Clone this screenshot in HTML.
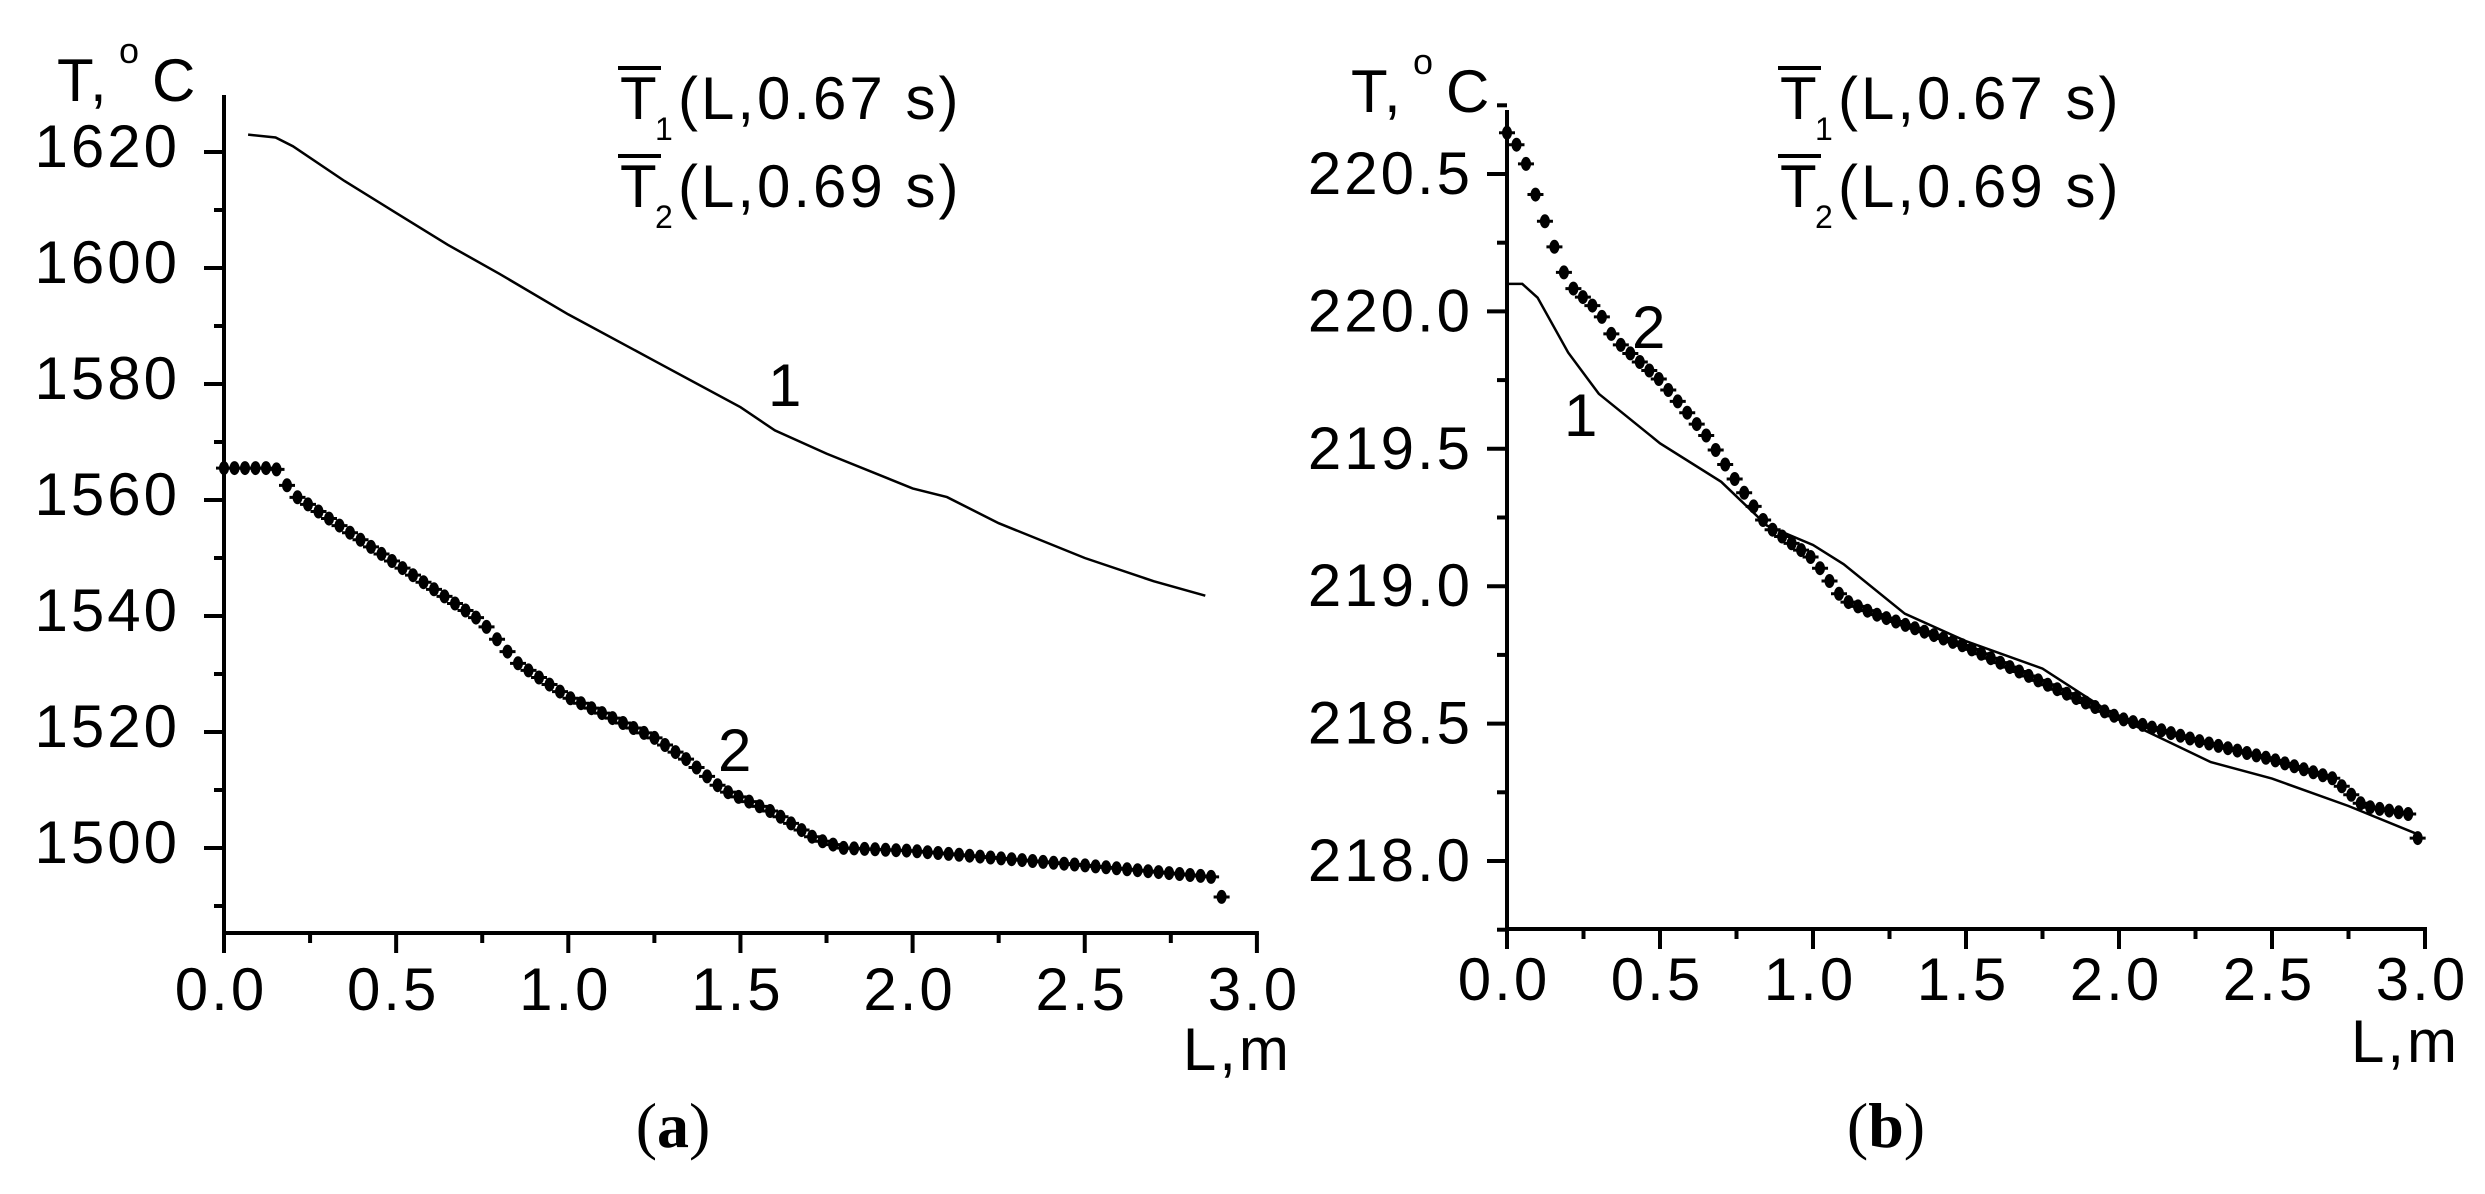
<!DOCTYPE html>
<html><head><meta charset="utf-8"><style>
html,body{margin:0;padding:0;background:#fff;}
svg{display:block;}
text{font-family:"Liberation Sans",sans-serif;fill:#000;}
.t{font-size:60px;letter-spacing:3px;}
.cap{font-family:"Liberation Serif",serif;font-size:64px;}
</style></head><body>
<svg id="s" width="2485" height="1194" viewBox="0 0 2485 1194" xmlns="http://www.w3.org/2000/svg"></svg>
<script>
const S=document.getElementById('s');let h='';
function L(x1,y1,x2,y2,w){h+=`<line x1="${x1}" y1="${y1}" x2="${x2}" y2="${y2}" stroke="#000" stroke-width="${w||3}"/>`;}
function T(x,y,s,a,c){h+=`<text x="${x}" y="${y}" class="${c||'t'}" text-anchor="${a||'start'}">${s}</text>`;}
function interp(p,x){for(let i=0;i<p.length-1;i++){if(x>=p[i][0]&&x<=p[i+1][0]){const t=(x-p[i][0])/(p[i+1][0]-p[i][0]);return p[i][1]+t*(p[i+1][1]-p[i][1]);}}return p[p.length-1][1];}
function panel(o){
 const X=v=>o.x0+(v-o.xmin)*o.xs, Y=v=>o.y0-(v-o.ymin)*o.ys;
 L(o.x0,o.top,o.x0,o.bot,4);L(o.x0,o.bot,X(3.0)+2,o.bot,4);
 for(let i=0;i<=6;i++){const x=X(i*0.5);L(x,o.bot,x,o.bot+20,4);if(i<6){const xm=X(i*0.5+0.25);L(xm,o.bot,xm,o.bot+10,4);}
  T(x-3,o.xlb,(i*0.5).toFixed(1),'middle');}
 o.yt.forEach((v,i)=>{const y=Y(v);L(o.x0-20,y,o.x0,y,4);T(o.x0-o.gap,y+o.yoff,v.toFixed(o.dec),'end');
  if(i<o.yt.length-1||o.extra){const ym=Y(v+o.step/2);L(o.x0-10,ym,o.x0,ym,4);}});
 if(o.below){const ym=Y(o.yt[0]-o.step/2);L(o.x0-10,ym,o.x0,ym,4);}
 T(o.tx,o.tb,'T,');h+=`<text x="${o.tx+62}" y="${o.tb-38}" style="font-size:36px">o</text>`;T(o.tx+95,o.tb,'C');
 T(X(3.0)-74,o.lmb,'L,m');
 const lx=o.lx;
 [['1','0.67s',119],['2','0.69s',207]].forEach(a=>{L(lx,a[2]-51,lx+43,a[2]-51,4);
  h+=`<text x="${lx+2}" y="${a[2]}" class="t">T</text><text x="${lx+37}" y="${a[2]+21}" style="font-size:32px">${a[0]}</text><text x="${lx+60}" y="${a[2]}" class="t">(L,0.${a[1].slice(2,4)} s)</text>`;});
 let d='';o.c1.forEach((p,i)=>{d+=(i?'L':'M')+X(p[0]).toFixed(1)+' '+Y(p[1]).toFixed(1);});
 h+=`<path d="${d}" fill="none" stroke="#000" stroke-width="2.5"/>`;
 const a=o.c2[0][0],b=o.c2[o.c2.length-1][0];
 for(let v=a;v<=b+1e-6;v+=o.dx){const x=X(v),y=Y(interp(o.c2,v));
  h+=`<ellipse cx="${x.toFixed(1)}" cy="${y.toFixed(1)}" rx="5" ry="7"/><line x1="${x-8}" y1="${y}" x2="${x+8}" y2="${y}" stroke="#000" stroke-width="3"/>`;}
 o.lab.forEach(l=>T(l[0],l[1],l[2]));
 T(o.capx,1147,'(<tspan font-weight="bold">'+o.cap+'</tspan>)','middle','cap');
}
panel({x0:224,xmin:0,xs:344.3,y0:848,ymin:1500,ys:116/20,top:95,bot:933,yt:[1500,1520,1540,1560,1580,1600,1620],step:20,dec:0,below:true,gap:44,yoff:15,xlb:1010,lmb:1070,lx:618,tx:57,tb:101,
 c1:[[0.07,1623],[0.15,1622.5],[0.2,1621],[0.35,1615],[0.5,1609.5],[0.65,1604],[0.8,1599],[1.0,1592],[1.25,1584],[1.5,1576],[1.6,1572],[1.75,1568],[2.0,1562],[2.1,1560.5],[2.25,1556],[2.5,1550],[2.7,1546],[2.85,1543.5]],
 c2:[[0,1565.5],[0.15,1565.5],[0.2,1561],[0.35,1555],[0.5,1549],[0.75,1539],[0.85,1532],[1.0,1526],[1.25,1519],[1.35,1515],[1.45,1510],[1.6,1506],[1.72,1501.5],[1.8,1500],[2.0,1499.5],[2.5,1497],[2.87,1495],[2.91,1490]],dx:0.0305,
 lab:[[768,406,'1'],[718,771,'2']],capx:673,cap:'a'});
panel({x0:1507,xmin:0,xs:306,y0:861,ymin:218,ys:137.4/0.5,top:110,bot:929,yt:[218,218.5,219,219.5,220,220.5],step:0.5,dec:1,extra:true,below:true,gap:34,yoff:20,xlb:1000,lmb:1062,lx:1778,tx:1351,tb:112,
 c1:[[0,220.1],[0.05,220.1],[0.1,220.05],[0.2,219.85],[0.3,219.7],[0.5,219.52],[0.7,219.38],[0.85,219.22],[1.0,219.15],[1.1,219.08],[1.3,218.9],[1.5,218.8],[1.75,218.7],[2.0,218.52],[2.3,218.36],[2.5,218.3],[2.75,218.2],[2.97,218.1]],
 c2:[[0,220.65],[0.05,220.58],[0.1,220.4],[0.15,220.25],[0.2,220.1],[0.3,220.0],[0.35,219.9],[0.5,219.75],[0.65,219.55],[0.75,219.38],[0.85,219.22],[1.0,219.1],[1.1,218.95],[1.2,218.9],[1.5,218.78],[1.75,218.65],[2.0,218.52],[2.25,218.44],[2.5,218.37],[2.7,218.3],[2.8,218.2],[2.95,218.17],[2.98,218.07],[3.0,217.88]],dx:0.031,
 lab:[[1632,348,'2'],[1564,436,'1']],capx:1886,cap:'b'});
S.innerHTML=h;
</script>
</body></html>
